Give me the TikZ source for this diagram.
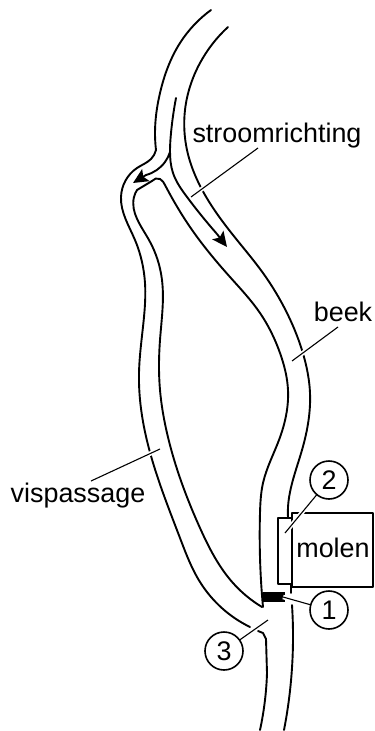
\documentclass[tikz,border=0pt]{standalone}
\usepackage{fontspec}
\setmainfont{Liberation Sans}
\usetikzlibrary{arrows.meta,hobby}
\tikzset{
  bank/.style={line width=1.9bp,line cap=round,line join=round},
  flow/.style={line width=1.9bp,-{Stealth[length=15bp,width=14bp,inset=3bp]}},
  leader/.style={line width=1.1bp,preaction={draw=white,line width=4.5bp}},
  lbl/.style={font=\fontsize{27}{30}\selectfont,inner sep=0pt,anchor=base},
  num/.style={circle,draw,line width=1.6bp,minimum size=38bp,inner sep=0pt,fill=white,font=\fontsize{27}{30}\selectfont},
  curve/.style={bank,use Hobby shortcut}
}
\begin{document}
\begin{tikzpicture}[x=1bp,y=-1bp]
\useasboundingbox (0,0) rectangle (374,731);
% left bank + vispassage outer
\draw[curve] (211,10) .. (180,43) .. (160,93) .. (155,133) .. (156,150);
\draw[curve] (156,150) .. (151,159) .. (137,168) .. (121,197) .. (135,240) .. (145,283) .. (144,317) .. (139,373) .. (144,427) .. (180,538) .. (200,582) .. (250,627);
% island
\draw[curve] (262,607) .. (233,583) .. (200,528) .. (167,433) .. (160,390) .. (160,340) .. (162,280) .. (149,240) .. (134,197) .. (137,190);
\draw[bank] (137,190) -- (152,181);
\draw[curve] (152,181) .. (160,179) .. (165,185) .. (190,227) .. (230,277) .. (260,313) .. (280,353) .. (288,390) .. (279,440) .. (263,483) .. (260,513) .. (263,607);
% right bank
\draw[curve] (228,27) .. (200,63) .. (185,110) .. (187,150) .. (205,195) .. (237,240) .. (263,273) .. (287,313) .. (304,357) .. (310,393) .. (302,450) .. (288,507) .. (288,518);
\draw[curve] (292,605) .. (293,640) .. (284,730);
\draw[bank] (258,631) -- (263,633) -- (266,639);
\draw[bank] (266,639) -- (267,673);
\draw[curve] (267,673) .. (265,700) .. (260,730);
% flow arrows
\coordinate (forkA) at (176,98);
\coordinate (preA) at (217,234);
\coordinate (tipA) at (227,247);
\coordinate (forkB) at (170,152);
\coordinate (preB) at (146,175);
\coordinate (tipB) at (133,183);
\draw[curve] (forkA) .. (171,133) .. (170,150) .. (173,173) .. (187,197) .. (preA);
\draw[flow] (preA) -- (tipA);
\draw[curve] (forkB) .. (165,162) .. (preB);
\draw[flow] (preB) -- (tipB);
% mill
\draw[bank] (292,513) rectangle (373,587);
\draw[bank,fill=white] (278,518) rectangle (292,584);
\draw[bank] (291,584) -- (291,593);
\fill[black] (263,592) rectangle (285,602);
% labels
\node[lbl] (stroom) at (277,143) {stroomrichting};
\node[lbl] (beek) at (343,321) {beek};
\node[lbl] (visp) at (78,502) {vispassage};
\node[lbl] (molen) at (333,557) {molen};
% leaders
\coordinate (n2c) at (329,480);
\coordinate (n1c) at (329,610);
\coordinate (n3c) at (224,651);
\coordinate (s1) at (258,148); \coordinate (s2) at (191,197);
\coordinate (b1) at (338,327); \coordinate (b2) at (292,361);
\coordinate (v1) at (91,481);  \coordinate (v2) at (160,449);
\coordinate (e2) at (285,533);
\coordinate (e1) at (283,597);
\coordinate (e3) at (268,620);
\draw[leader] (s1) -- (s2);
\draw[leader] (b1) -- (b2);
\draw[leader] (v1) -- (v2);
\draw[leader] (n2c) -- (e2);
\draw[leader] (n1c) -- (e1);
\draw[leader] (n3c) -- (e3);
\node[num] (n2) at (n2c) {2};
\node[num] (n1) at (n1c) {1};
\node[num] (n3) at (n3c) {3};
\end{tikzpicture}
\end{document}
